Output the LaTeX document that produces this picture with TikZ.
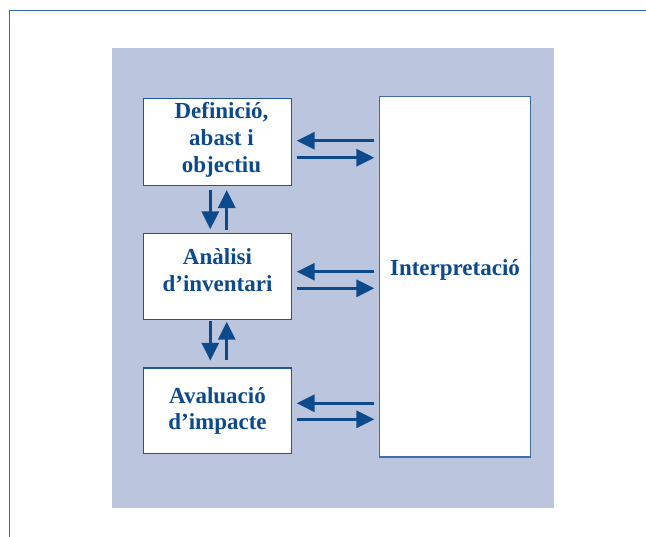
\documentclass[tikz,border=0pt]{standalone}
\usepackage{fontspec}
\setmainfont{Liberation Serif}
\usetikzlibrary{arrows.meta,calc}
\definecolor{bgblue}{HTML}{BBC5DE}
\definecolor{darkblue}{HTML}{0D4A8C}
\definecolor{frameblue}{HTML}{2F6DB2}
\definecolor{boxblue}{HTML}{1F5596}
\tikzset{
  box/.style={draw=boxblue, line width=1.4bp, fill=white, outer sep=0pt, inner sep=0pt, minimum width=148.4bp},
  ibox/.style={draw=boxblue!85!white, line width=1.5bp, fill=white, outer sep=0pt, inner sep=0pt},
  lbl/.style={text=darkblue, align=center, inner sep=0pt, font=\bfseries\fontsize{23bp}{26.7bp}\selectfont},
  arr/.style={draw=darkblue, line width=3bp, -{Triangle[length=18bp,width=17bp]}},
}
\begin{document}
\begin{tikzpicture}[x=1bp,y=-1bp]
\useasboundingbox (0,0) rectangle (646,537);
% outer frame
\coordinate (fc) at (9.5,10.5);
\coordinate (fr) at (646,10.5);
\coordinate (fb) at (9.5,537);
\draw[frameblue, line width=1.6bp] (fr) -- (fc) -- (fb);
% background
\fill[bgblue] (112,48) rectangle (554,507.7);
% boxes
\node[box, minimum height=87.4bp] (b1) at (217.5,142) {};
\node[box, minimum height=86.4bp] (b2) at (217.5,276.5) {};
\node[box, minimum height=85.7bp] (b3) at (217.5,410.9) {};
\node[ibox, minimum width=151bp, minimum height=360.3bp] (ip) at (454.8,276.8) {};
% texts
\node[lbl] (t1) at (221.5,140) {Definició,\\abast i\\objectiu};
\node[lbl] (t2) at (217.5,270) {Anàlisi\\d’inventari};
\node[lbl] (t3) at (217.5,411) {Avaluació\\d’impacte};
\node[lbl] (t4) at (455,270) {Interpretació};
% horizontal arrows
\draw[arr, shorten <=5bp, shorten >=5bp] ($(b1.east -| ip.west)+(0,-1.3)$) -- ($(b1.east)+(0,-1.3)$);
\draw[arr, shorten <=5bp, shorten >=5bp] ($(b1.east)+(0,15.7)$) -- ($(b1.east -| ip.west)+(0,15.7)$);
\draw[arr, shorten <=5bp, shorten >=5bp] ($(b2.east -| ip.west)+(0,-4.8)$) -- ($(b2.east)+(0,-4.8)$);
\draw[arr, shorten <=5bp, shorten >=5bp] ($(b2.east)+(0,11.8)$) -- ($(b2.east -| ip.west)+(0,11.8)$);
\draw[arr, shorten <=5bp, shorten >=5bp] ($(b3.east -| ip.west)+(0,-7.6)$) -- ($(b3.east)+(0,-7.6)$);
\draw[arr, shorten <=5bp, shorten >=5bp] ($(b3.east)+(0,8.4)$) -- ($(b3.east -| ip.west)+(0,8.4)$);
% vertical arrows
\draw[arr, shorten <=4.3bp, shorten >=4bp] ($(b1.south)+(-7.2,0)$) -- ($(b2.north)+(-7.2,0)$);
\draw[arr, shorten <=3.3bp, shorten >=4.3bp] ($(b2.north)+(9.2,0)$) -- ($(b1.south)+(9.2,0)$);
\draw[arr, shorten <=1.3bp, shorten >=7.3bp] ($(b2.south)+(-7.2,0)$) -- ($(b3.north)+(-7.2,0)$);
\draw[arr, shorten <=8bp, shorten >=2bp] ($(b3.north)+(9.2,0)$) -- ($(b2.south)+(9.2,0)$);
\end{tikzpicture}
\end{document}
